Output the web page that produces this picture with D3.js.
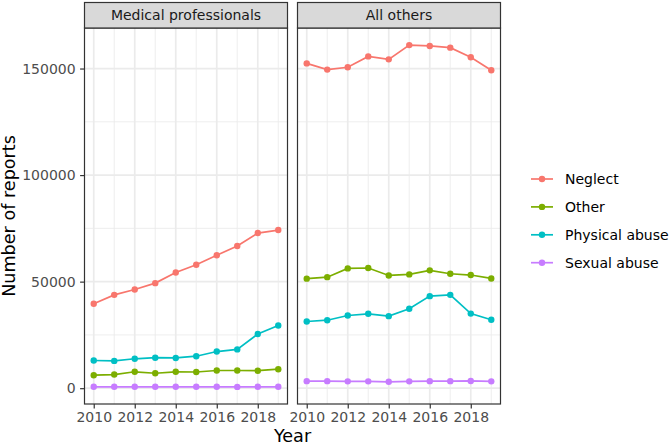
<!DOCTYPE html>
<html>
<head>
<meta charset="utf-8">
<script src="https://cdn.jsdelivr.net/npm/d3@7"></script>
<style>
  body { margin: 0; background: #fff; }
  text { font-family: "DejaVu Sans", sans-serif; }
</style>
</head>
<body>
<div id="chart"></div>
<script>
var w = 670;
var h = 444;

// data
var years = [2010, 2011, 2012, 2013, 2014, 2015, 2016, 2017, 2018, 2019];
var panels = ["Medical professionals", "All others"];
var categories = ["Neglect", "Other", "Physical abuse", "Sexual abuse"];
var colors = ["#F8766D", "#7CAE00", "#00BFC4", "#C77CFF"];

var medNeglect  = [39600, 43800, 46300, 49300, 54300, 57900, 62400, 66700, 72800, 74200];
var medOther    = [6100, 6400, 7700, 7000, 7700, 7600, 8300, 8300, 8200, 8900];
var medPhysical = [13000, 12800, 13800, 14300, 14200, 15000, 17200, 18200, 25400, 29400];
var medSexual   = [650, 650, 650, 650, 650, 650, 650, 600, 650, 650];

var othNeglect  = [152400, 149500, 150600, 155700, 154300, 161000, 160600, 159800, 155300, 149200];
var othOther    = [51400, 52100, 56200, 56400, 52900, 53400, 55300, 53700, 53100, 51500];
var othPhysical = [31300, 31900, 34100, 34900, 33800, 37300, 43200, 43800, 35000, 32100];
var othSexual   = [3300, 3300, 3200, 3200, 3000, 3200, 3300, 3300, 3400, 3200];

var yTicks = [0, 50000, 100000, 150000];
var xTicks = [2010, 2012, 2014, 2016, 2018];

var panelData = [
  [medNeglect, medOther, medPhysical, medSexual],
  [othNeglect, othOther, othPhysical, othSexual]
];

var panelX = [84.5, 297.5];
var panelW = 203;
var stripTop = 2.5, stripH = 25.5;
var plotTop = 28, plotBottom = 404;

var svg = d3.select("#chart").append("svg")
  .attr("width", w).attr("height", h);

// shared y scale, ggplot style 5% expansion
var allVals = d3.merge(d3.merge(panelData));
var yMin = d3.min(allVals), yMax = d3.max(allVals);
var yPad = (yMax - yMin) * 0.05;
var yScale = d3.scaleLinear()
  .domain([yMin - yPad, yMax + yPad])
  .range([plotBottom, plotTop]);

var xPad = (d3.max(years) - d3.min(years)) * 0.05;
var xMinorTicks = [2011, 2013, 2015, 2017, 2019];
var yMinorTicks = [25000, 75000, 125000];

panels.forEach(function(name, p) {
  var xScale = d3.scaleLinear()
    .domain([d3.min(years) - xPad, d3.max(years) + xPad])
    .range([panelX[p], panelX[p] + panelW]);

  var g = svg.append("g");

  g.append("rect")
    .attr("x", panelX[p]).attr("y", plotTop)
    .attr("width", panelW).attr("height", plotBottom - plotTop)
    .attr("fill", "#fff");

  // minor grid
  g.selectAll(".ymin").data(yMinorTicks).enter().append("line")
    .attr("x1", panelX[p]).attr("x2", panelX[p] + panelW)
    .attr("y1", d => yScale(d)).attr("y2", d => yScale(d))
    .attr("stroke", "#EBEBEB").attr("stroke-width", 0.85);
  g.selectAll(".xmin").data(xMinorTicks).enter().append("line")
    .attr("x1", d => xScale(d)).attr("x2", d => xScale(d))
    .attr("y1", plotTop).attr("y2", plotBottom)
    .attr("stroke", "#EBEBEB").attr("stroke-width", 0.85);
  // major grid
  g.selectAll(".ymaj").data(yTicks).enter().append("line")
    .attr("x1", panelX[p]).attr("x2", panelX[p] + panelW)
    .attr("y1", d => yScale(d)).attr("y2", d => yScale(d))
    .attr("stroke", "#EBEBEB").attr("stroke-width", 1.7);
  g.selectAll(".xmaj").data(xTicks).enter().append("line")
    .attr("x1", d => xScale(d)).attr("x2", d => xScale(d))
    .attr("y1", plotTop).attr("y2", plotBottom)
    .attr("stroke", "#EBEBEB").attr("stroke-width", 1.7);

  var line = d3.line()
    .x((d, i) => xScale(years[i]))
    .y(d => yScale(d));

  panelData[p].forEach(function(series, s) {
    g.append("path")
      .datum(series)
      .attr("d", line)
      .attr("fill", "none")
      .attr("stroke", colors[s])
      .attr("stroke-width", 1.7);
    g.selectAll(".pt" + s).data(series).enter().append("circle")
      .attr("cx", (d, i) => xScale(years[i]))
      .attr("cy", d => yScale(d))
      .attr("r", 3.2)
      .attr("fill", colors[s]);
  });

  // panel border
  g.append("rect")
    .attr("x", panelX[p]).attr("y", plotTop)
    .attr("width", panelW).attr("height", plotBottom - plotTop)
    .attr("fill", "none").attr("stroke", "#333333").attr("stroke-width", 1.2);

  // strip
  g.append("rect")
    .attr("x", panelX[p]).attr("y", stripTop)
    .attr("width", panelW).attr("height", stripH)
    .attr("fill", "#D9D9D9").attr("stroke", "#333333").attr("stroke-width", 1.2);
  g.append("text")
    .attr("x", panelX[p] + panelW / 2).attr("y", stripTop + stripH / 2 + 5)
    .attr("text-anchor", "middle")
    .attr("font-size", "14px").attr("fill", "#1A1A1A")
    .text(name);

  // x axis
  var xAxis = g.append("g")
    .attr("transform", "translate(0," + plotBottom + ")")
    .call(d3.axisBottom(xScale).tickValues(xTicks).tickFormat(d3.format("d"))
      .tickSize(4.4).tickPadding(3.5));
  xAxis.select(".domain").remove();
  xAxis.selectAll("line").attr("stroke", "#333333").attr("stroke-width", 1.2);
  xAxis.selectAll("text").attr("fill", "#4D4D4D")
    .attr("font-size", "14px").attr("font-family", "DejaVu Sans, sans-serif");
});

// y axis (left panel only)
var yAxis = svg.append("g")
  .attr("transform", "translate(" + panelX[0] + ",0)")
  .call(d3.axisLeft(yScale).tickValues(yTicks).tickFormat(d3.format("d"))
    .tickSize(4.4).tickPadding(4.5));
yAxis.select(".domain").remove();
yAxis.selectAll("line").attr("stroke", "#333333").attr("stroke-width", 1.2);
yAxis.selectAll("text").attr("fill", "#4D4D4D")
  .attr("font-size", "14px").attr("font-family", "DejaVu Sans, sans-serif");

// axis titles
svg.append("text")
  .attr("x", (panelX[0] + panelX[1] + panelW) / 2).attr("y", 441.5)
  .attr("text-anchor", "middle").attr("font-size", "17.6px").attr("fill", "#000")
  .text("Year");
svg.append("text")
  .attr("transform", "translate(15," + (plotTop + plotBottom) / 2 + ") rotate(-90)")
  .attr("text-anchor", "middle").attr("font-size", "17.6px").attr("fill", "#000")
  .text("Number of reports");

// legend
var legend = svg.append("g");
categories.forEach(function(c, i) {
  var ly = 179 + i * 27.9;
  legend.append("line")
    .attr("x1", 531).attr("x2", 553).attr("y1", ly).attr("y2", ly)
    .attr("stroke", colors[i]).attr("stroke-width", 1.7);
  legend.append("circle")
    .attr("cx", 542).attr("cy", ly).attr("r", 3.2).attr("fill", colors[i]);
  legend.append("text")
    .attr("x", 565).attr("y", ly + 5)
    .attr("font-size", "14px").attr("fill", "#000")
    .text(c);
});
</script>
</body>
</html>
